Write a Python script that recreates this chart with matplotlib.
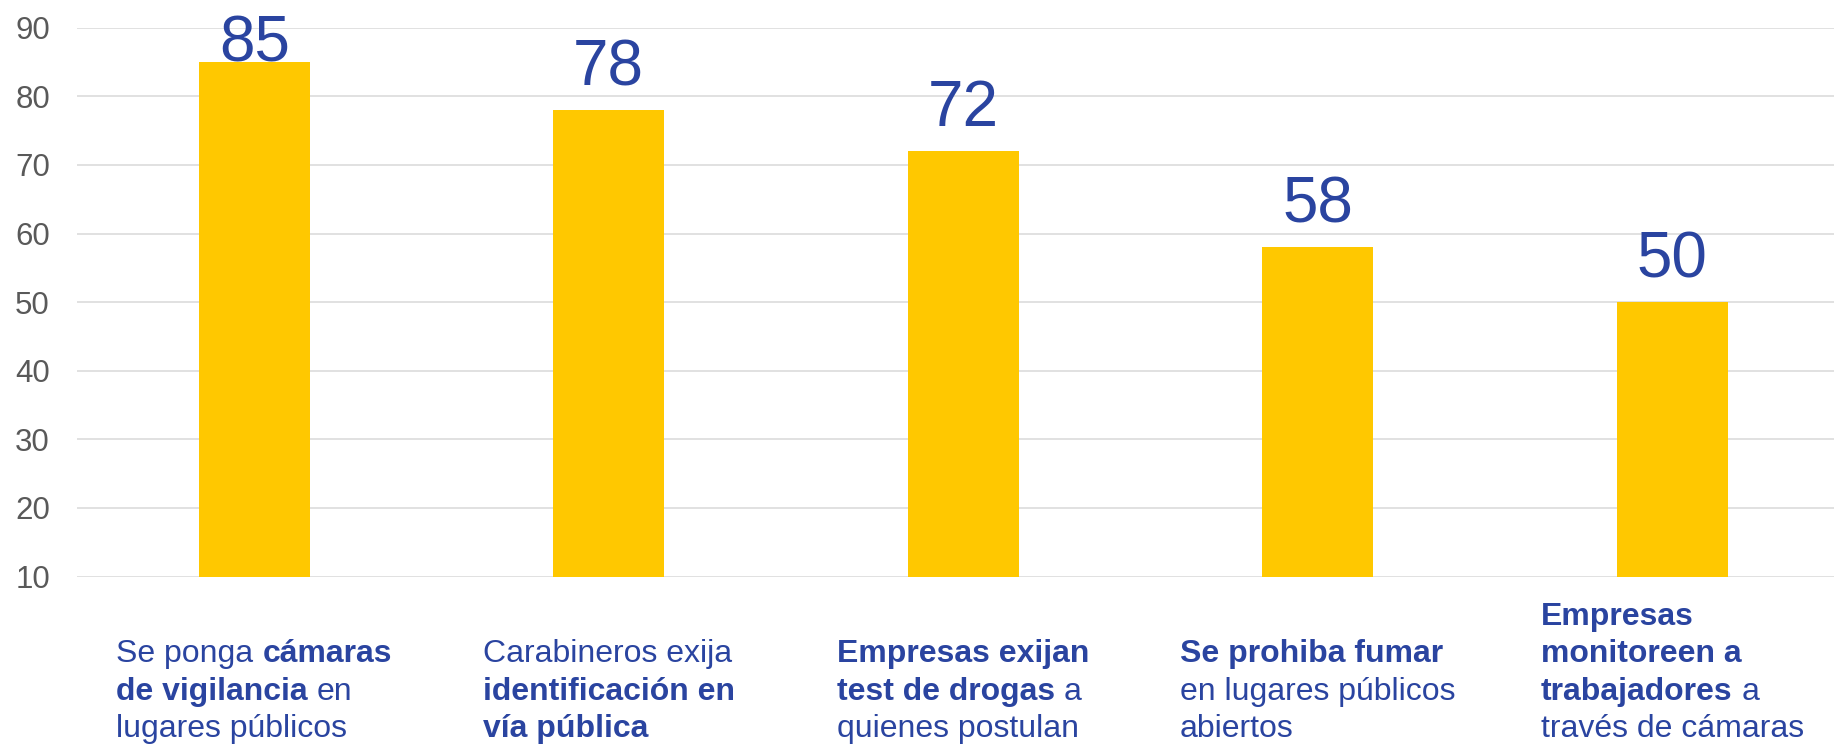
import matplotlib
matplotlib.use("Agg")
import matplotlib.pyplot as plt
from matplotlib.transforms import IdentityTransform

# ---- data ----
categories = [
    [[("Se ponga ", False), ("cámaras", True)],
     [("de vigilancia", True), (" en", False)],
     [("lugares públicos", False)]],
    [[("Carabineros exija", False)],
     [("identificación en", True)],
     [("vía pública", True)]],
    [[("Empresas exijan", True)],
     [("test de drogas", True), (" a", False)],
     [("quienes postulan", False)]],
    [[("Se prohiba fumar", True)],
     [("en lugares públicos", False)],
     [("abiertos", False)]],
    [[("Empresas", True)],
     [("monitoreen a", True)],
     [("trabajadores", True), (" a", False)],
     [("través de cámaras", False)]],
]
values = [85, 78, 72, 58, 50]
yticks = [10, 20, 30, 40, 50, 60, 70, 80, 90]

# ---- style ----
W, H = 1834, 753
BAR = "#FFC800"
BLUE = "#2A44A0"
GRAY = "#595959"
FONT = "Liberation Sans"
plt.rcParams["font.family"] = FONT

fig = plt.figure(figsize=(W / 100, H / 100), dpi=100)
ax_left, ax_top_px, ax_bot_px = 77, 27.7, 576.5
ax = fig.add_axes([ax_left / W, (H - ax_bot_px) / H, (W - ax_left) / W,
                   (ax_bot_px - ax_top_px) / H])

x = list(range(len(values)))
ax.bar(x, values, width=0.313, color=BAR, zorder=2)
ax.set_ylim(10, 90)
ax.set_xlim(-0.5, -0.5 + (W - ax_left) / 354.5)
ax.set_yticks(yticks)
ax.set_yticklabels([str(t) for t in yticks])
ax.set_xticks([])
ax.yaxis.grid(True, color="#D9D9D9", lw=1.1, zorder=0)
ax.set_axisbelow(True)
for s in ax.spines.values():
    s.set_visible(False)
ax.tick_params(axis="y", length=0, pad=19.5, labelsize=22.5, labelcolor=GRAY)

# value labels: 25 px above bar top, kept inside the chart area at the top
label_gap = 25
max_base = H - 61.7
for xi, v in zip(x, values):
    px, py = ax.transData.transform((xi, v))
    base = min(py + label_gap, max_base)
    fig.text(px, base, str(v), transform=IdentityTransform(), ha="center",
             va="baseline", fontsize=46, color=BLUE, zorder=3)

# ---- category labels (mixed bold / regular) ----
fs = 23
line_h = 37.4
last_base = 737.0
renderer = fig.canvas.get_renderer()


def width_of(s, bold):
    t = fig.text(0, 0, s, fontsize=fs, fontweight="bold" if bold else "normal",
                 family=FONT)
    w = t.get_window_extent(renderer).width
    t.remove()
    return w


def space_w(bold):
    return width_of("a a", bold) - width_of("aa", bold)


def seg_width(s, bold):
    core = s.strip()
    w = width_of(core, bold) if core else 0
    nsp = (len(s) - len(s.lstrip(" "))) + (len(s) - len(s.rstrip(" ")))
    return w + nsp * space_w(bold)


for xi, lines in zip(x, categories):
    cx = ax.transData.transform((xi, 50))[0]
    line_widths = [sum(seg_width(s, b) for s, b in ln) for ln in lines]
    left = cx - max(line_widths) / 2
    n = len(lines)
    for li, ln in enumerate(lines):
        base_top = last_base - (n - 1 - li) * line_h
        ypix = H - base_top
        xp = left
        for s, b in ln:
            lead = len(s) - len(s.lstrip(" "))
            xp += lead * space_w(b)
            core = s.strip()
            fig.text(xp, ypix, core, transform=IdentityTransform(), fontsize=fs,
                     fontweight="bold" if b else "normal", color=BLUE,
                     ha="left", va="baseline", family=FONT)
            xp += width_of(core, b)
            trail = len(s) - len(s.rstrip(" "))
            xp += trail * space_w(b)

fig.savefig("out.png", dpi=100)
